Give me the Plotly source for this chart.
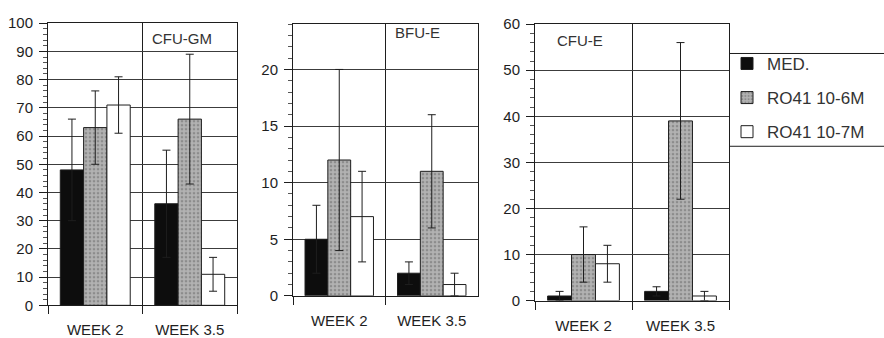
import plotly.graph_objects as go

weeks = ["WEEK 2", "WEEK 3.5"]
series_names = ["MED.", "RO41 10-6M", "RO41 10-7M"]

# CFU-GM panel
cfu_gm_vals = [[48, 36], [63, 66], [71, 11]]
cfu_gm_err = [[18, 19], [13, 23], [10, 6]]
# BFU-E panel
bfu_e_vals = [[5, 2], [12, 11], [7, 1]]
bfu_e_err = [[3, 1], [8, 5], [4, 1]]
# CFU-E panel
cfu_e_vals = [[1, 2], [10, 39], [8, 1]]
cfu_e_err = [[1, 1], [6, 17], [4, 1]]

panel_titles = ["CFU-GM", "BFU-E", "CFU-E"]
y_ranges = [[0, 100], [0, 24], [0, 60]]
y_dticks = [10, 5, 10]
y_minor = [2, 1, 2]

FONT = "Liberation Sans, Arial, Helvetica, sans-serif"
INK = "#1e1e1e"

styles = [
    dict(color="#0d0d0d"),
    dict(color="#a8a8a8", pattern=dict(shape=".", fgcolor="#666666", bgcolor="#b2b2b2", size=4, solidity=0.35)),
    dict(color="#ffffff"),
]

panels = [(cfu_gm_vals, cfu_gm_err), (bfu_e_vals, bfu_e_err), (cfu_e_vals, cfu_e_err)]

fig = go.Figure()
for p, (vals, errs) in enumerate(panels):
    ax = "" if p == 0 else str(p + 1)
    for s in range(3):
        st = styles[s]
        marker = dict(color=st["color"], line=dict(color=INK, width=1))
        if "pattern" in st:
            marker["pattern"] = st["pattern"]
        fig.add_trace(go.Bar(
            x=weeks, y=vals[s], name=series_names[s],
            legendgroup=series_names[s], showlegend=(p == 0),
            marker=marker,
            error_y=dict(type="data", array=errs[s], color=INK, thickness=1, width=4),
            xaxis="x" + ax, yaxis="y" + ax,
        ))

W, H = 884, 338
xdom = [(48, 237), (293, 478), (535, 729)]
ydom = [(15, 313), (16, 303), (16, 308)]

layout = dict(
    width=W, height=H, margin=dict(l=0, r=0, t=0, b=0),
    paper_bgcolor="white", plot_bgcolor="white",
    barmode="group", bargap=0.26, bargroupgap=0,
    font=dict(family=FONT, size=15, color=INK),
    legend=dict(x=727 / W, y=1 - 39 / H, xanchor="left", yanchor="top",
                font=dict(size=17, family=FONT, color="#333"),
                tracegroupgap=9, bgcolor="rgba(0,0,0,0)"),
)
for p in range(3):
    ax = "" if p == 0 else str(p + 1)
    layout["xaxis" + ax] = dict(
        domain=[xdom[p][0] / W, xdom[p][1] / W], anchor="y" + ax,
        type="category", tickson="boundaries", showgrid=True, gridcolor=INK, gridwidth=1,
        showline=True, linecolor=INK, linewidth=1, mirror=True,
        ticks="outside", ticklen=8, tickcolor=INK, tickfont=dict(size=15, color=INK),
        ticklabelstandoff=11, zeroline=False,
    )
    layout["yaxis" + ax] = dict(
        domain=[1 - ydom[p][1] / H, 1 - ydom[p][0] / H], anchor="x" + ax,
        range=y_ranges[p], dtick=y_dticks[p], showgrid=True, gridcolor="#3c3c3c", gridwidth=1,
        showline=True, linecolor=INK, linewidth=1, mirror=True,
        ticks="outside", ticklen=8, tickcolor=INK, tickfont=dict(size=15, color=INK),
        ticklabelstandoff=3,
        minor=dict(dtick=y_minor[p], ticks="outside", ticklen=4, tickcolor="#555", showgrid=False),
        zeroline=False,
    )

ann_pos = [(182, 31), (417, 25), (580, 33)]
layout["annotations"] = [
    dict(text=panel_titles[p], x=ann_pos[p][0] / W, y=1 - ann_pos[p][1] / H,
         xref="paper", yref="paper", showarrow=False, xanchor="center", yanchor="middle",
         font=dict(size=15, family=FONT, color="#333"))
    for p in range(3)
]
layout["shapes"] = [
    dict(type="line", xref="paper", yref="paper", x0=729 / W, x1=1, y0=1 - 47 / H, y1=1 - 47 / H,
         line=dict(color=INK, width=1)),
    dict(type="line", xref="paper", yref="paper", x0=729 / W, x1=1, y0=1 - 145 / H, y1=1 - 145 / H,
         line=dict(color=INK, width=1)),
]
fig.update_layout(**layout)
fig.write_html("out.html", config={"displayModeBar": False},
               post_script="document.body.style.margin='0';document.body.style.overflow='hidden';")
